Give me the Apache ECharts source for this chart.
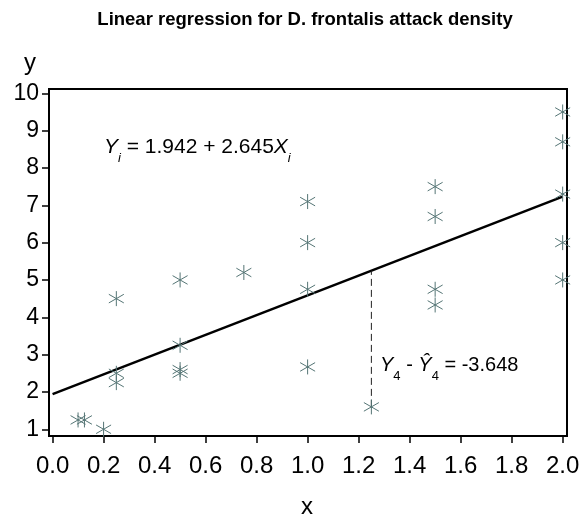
<!DOCTYPE html>
<html><head><meta charset="utf-8">
<script src="https://cdn.jsdelivr.net/npm/echarts@6/dist/echarts.min.js"></script>
<style>html,body{margin:0;padding:0;background:#fff}#c{width:584px;height:520px}</style>
</head><body><div id="c"></div><script>
const attackX = [0.1, 0.125, 0.2, 0.25, 0.25, 0.25, 0.5, 0.5, 0.5, 0.5, 0.75, 1.0, 1.0, 1.0, 1.0, 1.25, 1.5, 1.5, 1.5, 1.5, 2.0, 2.0, 2.0, 2.0, 2.0];
const attackY = [1.25, 1.25, 1.0, 4.5, 2.5, 2.25, 5.0, 3.25, 2.6, 2.5, 5.2, 7.1, 6.0, 4.75, 2.67, 1.6, 7.5, 6.7, 4.75, 4.33, 9.5, 8.7, 7.3, 6.0, 5.0];
// Fitted line endpoints
const fitX = [0, 2];
const fitY = [1.942, 7.232];
// Residual segment for observation 4
const residX = [1.25, 1.25];
const residY = [1.6, 5.248];
// Tick values
const xTicks = [0, 0.2, 0.4, 0.6, 0.8, 1.0, 1.2, 1.4, 1.6, 1.8, 2.0];
const yTicks = [1, 2, 3, 4, 5, 6, 7, 8, 9, 10];

const FONT = "'Liberation Sans', Arial, sans-serif";
const pair = (xs, ys) => xs.map((x, i) => [x, ys[i]]);
const chart = echarts.init(document.getElementById('c'), null, {renderer: 'canvas'});
function richSet(main) {
  return {
    it: {fontSize: main, fontFamily: FONT, fontStyle: 'italic', lineHeight: 24, verticalAlign: 'top', color: '#000'},
    n: {fontSize: main, fontFamily: FONT, lineHeight: 24, verticalAlign: 'top', color: '#000'},
    sub: {fontSize: 13, fontFamily: FONT, fontStyle: 'italic', lineHeight: 14, padding: [15, 0, 0, 0], verticalAlign: 'top', color: '#000'},
    subn: {fontSize: 13, fontFamily: FONT, lineHeight: 14, padding: [15, 0, 0, 0], verticalAlign: 'top', color: '#000'}
  };
}

chart.setOption({
  animation: false,
  backgroundColor: '#fff',
  grid: {left: 49, top: 89, right: 17, bottom: 84, show: true, borderColor: '#000', borderWidth: 2, backgroundColor: 'transparent', containLabel: false, outerBoundsMode: 'none'},
  xAxis: {
    type: 'value', min: -0.014, max: 2.017,
    axisLine: {show: false, onZero: false},
    splitLine: {show: false},
    axisTick: {show: true, length: 7, customValues: xTicks, lineStyle: {color: '#000', width: 1.5}},
    axisLabel: {customValues: xTicks, formatter: v => v.toFixed(1), fontSize: 24, fontFamily: FONT, color: '#000', margin: 18, showMinLabel: true, showMaxLabel: true}
  },
  yAxis: {
    type: 'value', min: 0.82, max: 10.115,
    axisLine: {show: false, onZero: false},
    splitLine: {show: false},
    axisTick: {show: true, length: 7, customValues: yTicks, lineStyle: {color: '#000', width: 1.5}},
    axisLabel: {customValues: yTicks, formatter: v => String(v), fontSize: 23, fontFamily: FONT, color: '#000', margin: 10, showMinLabel: true, showMaxLabel: true}
  },
  graphic: [
    {type: 'text', x: 305, y: 20, style: {text: 'Linear regression for D. frontalis attack density', font: 'bold 18.5px ' + FONT, fill: '#000', align: 'center', verticalAlign: 'middle'}},
    {type: 'text', x: 30, y: 63, style: {text: 'y', font: '24px ' + FONT, fill: '#000', align: 'center', verticalAlign: 'middle'}},
    {type: 'text', x: 307, y: 507, style: {text: 'x', font: '24px ' + FONT, fill: '#000', align: 'center', verticalAlign: 'middle'}},
    {type: 'text', x: 104, y: 137, style: {
      text: '{it|Y}{sub|i}{n| = 1.942 + 2.645}{it|X}{sub|i}', verticalAlign: 'top', align: 'left',
      rich: richSet(21)}},
    {type: 'text', x: 380, y: 355, style: {
      text: '{it|Y}{subn|4}{n| - }{it|Ŷ}{subn|4}{n| = -3.648}', verticalAlign: 'top', align: 'left',
      rich: richSet(20)}}
  ],
  series: [
    {type: 'line', data: pair(fitX, fitY), symbol: 'none', lineStyle: {color: '#000', width: 2.5}, z: 2, silent: true},
    {type: 'line', data: pair(residX, residY), symbol: 'none', lineStyle: {color: '#222', width: 1, type: [7, 4]}, z: 2, silent: true},
    {type: 'scatter', data: pair(attackX, attackY), symbol: 'path://M8,0L8,16M0,3.4L16,12.6M0,12.6L16,3.4', symbolSize: 15,
     itemStyle: {color: 'none', borderColor: '#557575', borderWidth: 1, opacity: 1}, z: 3, silent: true}
  ]
});
</script></body></html>
